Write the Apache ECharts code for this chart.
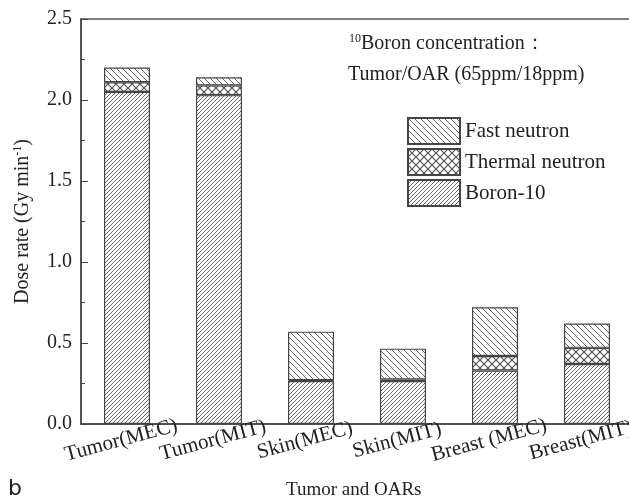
<!DOCTYPE html>
<html>
<head>
<meta charset="utf-8">
<script src="https://cdn.jsdelivr.net/npm/echarts@6/dist/echarts.min.js"></script>
<style>
html,body{margin:0;padding:0;background:#fff;}
#chart{width:629px;height:504px;}
</style>
</head>
<body>
<div id="chart"></div>
<script>
const categories = ['Tumor(MEC)', 'Tumor(MIT)', 'Skin(MEC)', 'Skin(MIT)', 'Breast (MEC)', 'Breast(MIT)'];
const boron10 = [2.05, 2.03, 0.265, 0.265, 0.33, 0.37];
const thermalNeutron = [0.06, 0.06, 0.005, 0.01, 0.09, 0.10];
const fastNeutron = [0.09, 0.05, 0.30, 0.19, 0.30, 0.15];
const yTicks = [0, 0.5, 1.0, 1.5, 2.0, 2.5];

function makePattern(kind) {
  const s = kind === 'boron' ? 4 : (kind === 'fast' ? 6 : 8);
  const c = document.createElement('canvas');
  c.width = s; c.height = s;
  const g = c.getContext('2d');
  g.fillStyle = '#fff';
  g.fillRect(0, 0, s, s);
  g.strokeStyle = kind === 'thermal' ? '#555' : '#666';
  g.lineWidth = kind === 'thermal' ? 1.2 : 1;
  function fwd() { // "/"
    g.beginPath();
    g.moveTo(-1, s + 1); g.lineTo(s + 1, -1);
    g.moveTo(-1, 1); g.lineTo(1, -1);
    g.moveTo(s - 1, s + 1); g.lineTo(s + 1, s - 1);
    g.stroke();
  }
  function back() { // "\"
    g.beginPath();
    g.moveTo(-1, -1); g.lineTo(s + 1, s + 1);
    g.moveTo(s - 1, -1); g.lineTo(s + 1, 1);
    g.moveTo(-1, s - 1); g.lineTo(1, s + 1);
    g.stroke();
  }
  if (kind === 'boron') fwd();
  else if (kind === 'fast') back();
  else { fwd(); back(); }
  return { image: c, repeat: 'repeat' };
}

const serif = '"Liberation Serif", "Times New Roman", serif';
const chart = echarts.init(document.getElementById('chart'), null, { renderer: 'canvas' });

const barStyle = (kind) => ({
  color: makePattern(kind),
  borderColor: '#444',
  borderWidth: 1.2
});

chart.setOption({
  animation: false,
  backgroundColor: '#fff',
  grid: {
    left: 81, top: 19, width: 552, height: 405,
    containLabel: false, outerBoundsMode: 'none',
    show: true, borderColor: '#555', borderWidth: 1.5, backgroundColor: 'transparent'
  },
  legend: {
    data: ['Fast neutron', 'Thermal neutron', 'Boron-10'],
    orient: 'vertical',
    left: 402, top: 112,
    itemWidth: 52, itemHeight: 26, itemGap: 3,
    icon: 'rect',
    textStyle: { fontFamily: serif, fontSize: 21, color: '#222' }
  },
  xAxis: {
    type: 'category',
    data: categories,
    axisLine: { lineStyle: { color: '#444', width: 1.5 } },
    axisTick: { inside: true, alignWithLabel: true, length: 6, lineStyle: { color: '#444' } },
    axisLabel: {
      interval: 0, rotate: 15, align: 'center', verticalAlign: 'top', margin: 4,
      padding: [0, 18, 0, 0],
      fontFamily: serif, fontSize: 21, color: '#222'
    }
  },
  yAxis: {
    type: 'value',
    min: 0, max: 2.5, interval: 0.5,
    name: '{a|Dose rate (Gy min}{s|-1}{a|)}',
    nameLocation: 'middle',
    nameRotate: 90,
    nameGap: 47,
    nameTextStyle: {
      rich: {
        a: { fontFamily: serif, fontSize: 20, color: '#222' },
        s: { fontFamily: serif, fontSize: 12, color: '#222', verticalAlign: 'top', padding: [0, 0, 10, 0] }
      }
    },
    axisLine: { show: true, lineStyle: { color: '#444', width: 1.5 } },
    axisTick: { show: true, inside: true, length: 7, lineStyle: { color: '#444' } },
    minorTick: { show: true, splitNumber: 2, length: 4, lineStyle: { color: '#444' } },
    splitLine: { show: false },
    axisLabel: {
      margin: 9, fontFamily: serif, fontSize: 20, color: '#222',
      formatter: (v) => yTicks.indexOf(v) >= 0 ? v.toFixed(1) : ''
    }
  },
  series: [
    { name: 'Boron-10', type: 'bar', stack: 'dose', barWidth: '50%', data: boron10, itemStyle: barStyle('boron') },
    { name: 'Thermal neutron', type: 'bar', stack: 'dose', barWidth: '50%', data: thermalNeutron, itemStyle: barStyle('thermal') },
    { name: 'Fast neutron', type: 'bar', stack: 'dose', barWidth: '50%', data: fastNeutron, itemStyle: barStyle('fast') }
  ],
  graphic: [
    {
      type: 'text', left: 349, top: 33,
      style: {
        text: '{s|10}{a|Boron concentration：}',
        rich: {
          a: { fontFamily: serif, fontSize: 20, fill: '#222' },
          s: { fontFamily: serif, fontSize: 12, fill: '#222', verticalAlign: 'top', padding: [0, 0, 10, 0] }
        }
      }
    },
    {
      type: 'text', left: 348, top: 65,
      style: { text: 'Tumor/OAR (65ppm/18ppm)', font: '20px ' + serif, fill: '#222' }
    },
    {
      type: 'text', left: 286, top: 481,
      style: { text: 'Tumor and OARs', font: '19px ' + serif, fill: '#222' }
    },
    {
      type: 'text', left: 8, top: 478,
      style: { text: 'b', font: '22px "DejaVu Sans", sans-serif', fill: '#222' }
    }
  ]
});
</script>
</body>
</html>
